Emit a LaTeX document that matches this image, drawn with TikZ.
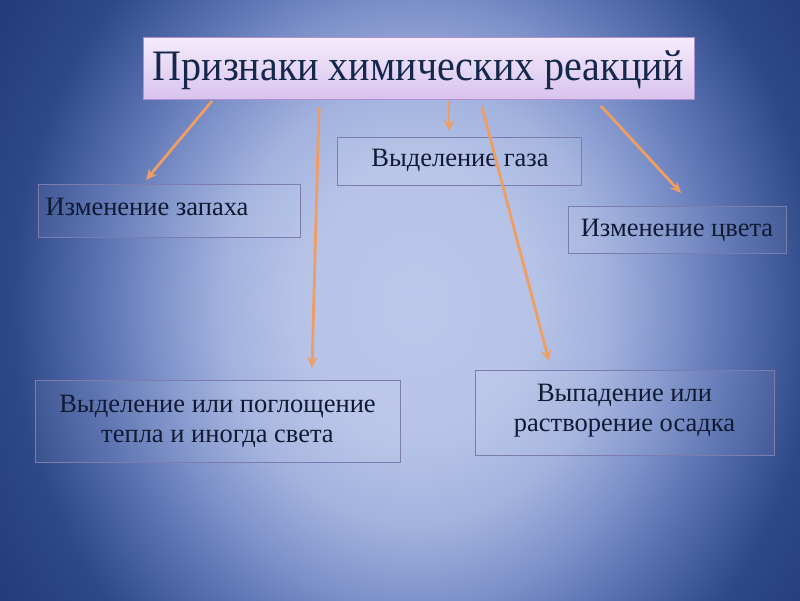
\documentclass[tikz,border=0pt]{standalone}
\usepackage{fontspec}
\setmainfont{Liberation Serif}
\usetikzlibrary{arrows.meta}
\definecolor{bgA}{HTML}{BCC8EA}
\definecolor{bgB}{HTML}{B6C3E7}
\definecolor{bgC}{HTML}{A2B2DE}
\definecolor{bgD}{HTML}{7F93CB}
\definecolor{bgE}{HTML}{5870B0}
\definecolor{bgF}{HTML}{2E4888}
\definecolor{bgG}{HTML}{1C3070}
\definecolor{ttop}{HTML}{F4ECFB}
\definecolor{tbot}{HTML}{D9C3EE}
\definecolor{tline}{HTML}{B08ED2}
\definecolor{bline}{HTML}{7C7CAE}
\definecolor{arrc}{HTML}{EE9E62}
\definecolor{txt}{HTML}{101A33}
\definecolor{ttxt}{HTML}{15284C}
\pgfdeclareradialshading{bgshade}{\pgfpoint{0bp}{0bp}}{color(0bp)=(bgA); color(15bp)=(bgB); color(24bp)=(bgC); color(32bp)=(bgD); color(40bp)=(bgE); color(50bp)=(bgF); color(70bp)=(bgG)}
\tikzset{
  titlebox/.style={draw=tline, line width=1pt, top color=ttop, bottom color=tbot, inner sep=0pt},
  sbox/.style={draw=bline, line width=0.8pt, fill=white, fill opacity=0.06, text opacity=1, inner sep=0pt},
  btext/.style={text=txt, font=\fontsize{26.5}{30}\selectfont, align=center},
  arr/.style={draw=arrc, line width=2.8pt, -{Stealth[length=11pt,width=10pt]}}
}
\begin{document}
\begin{tikzpicture}[x=1pt,y=-1pt]
\useasboundingbox (0,0) rectangle (800,600);
\begin{scope}
  \clip (0,0) rectangle (800,600);
  \pgftransformshift{\pgfpoint{415pt}{-305pt}}
  \pgftransformxscale{8}
  \pgftransformyscale{9.2}
  \pgflowlevelsynccm
  \pgfuseshading{bgshade}
\end{scope}
% title
\node[titlebox, minimum width=551pt, minimum height=62pt] (title) at (418.5,68) {};
\node[text=ttxt, anchor=base, font=\fontsize{43.5}{46}\selectfont\addfontfeature{FakeStretch=0.92}] (ttl) at (418.5,80) {Признаки химических реакций};
% boxes
\node[sbox, minimum width=262pt, minimum height=53pt] (smell) at (169,210.5) {};
\node[btext, anchor=west] (smellt) at (42,207) {Изменение запаха};
\node[sbox, minimum width=244pt, minimum height=48pt] (gas) at (459,161) {};
\node[btext] (gast) at (460,160) {Выделение газа};
\node[sbox, minimum width=218pt, minimum height=47pt] (color) at (677,229.5) {};
\node[btext] (colort) at (677,230) {Изменение цвета};
\node[sbox, minimum width=365pt, minimum height=82pt] (heat) at (217.5,421) {};
\node[btext] (heatt) at (217.5,421) {Выделение или поглощение\\тепла и иногда света};
\node[sbox, minimum width=299pt, minimum height=85pt] (prec) at (624.5,412.5) {};
\node[btext] (prect) at (624.5,411) {Выпадение или\\растворение осадка};
% arrow ends
\coordinate (s1) at (212,101); \coordinate (e1) at (146,180);
\coordinate (s2) at (319,107); \coordinate (e2) at (312,368);
\coordinate (s3) at (449,101); \coordinate (e3) at (449,131);
\coordinate (s4) at (482,107); \coordinate (e4) at (549,361);
\coordinate (s5) at (601,106); \coordinate (e5) at (681,193);
\draw[arr] (s1) -- (e1);
\draw[arr] (s2) -- (e2);
\draw[arr] (s3) -- (e3);
\draw[arr] (s4) -- (e4);
\draw[arr] (s5) -- (e5);
\end{tikzpicture}
\end{document}
